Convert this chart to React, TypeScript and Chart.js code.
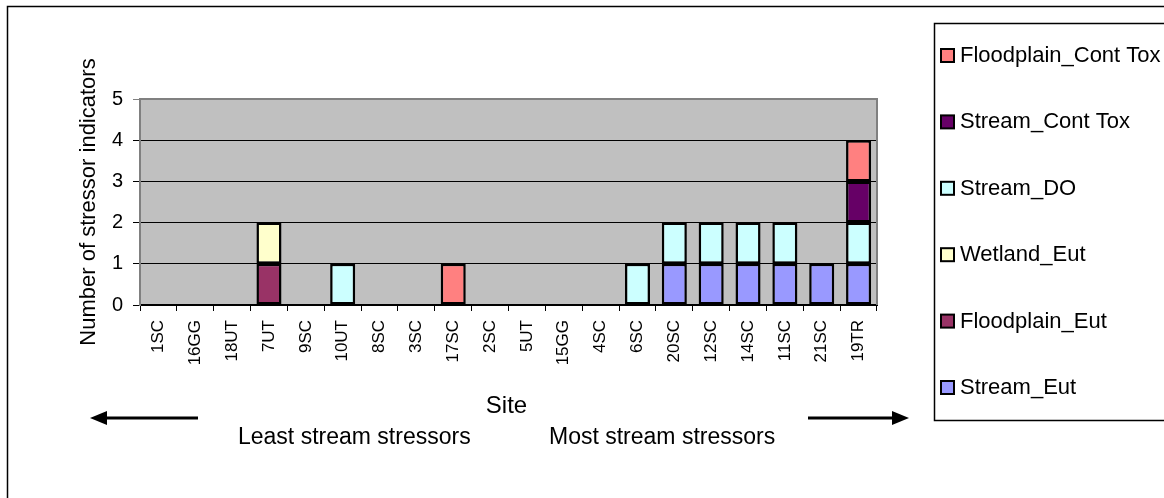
import React, { useEffect, useRef } from "react";
import { Chart, registerables } from "chart.js";

Chart.register(...registerables);

const sites = ["1SC", "16GG", "18UT", "7UT", "9SC", "10UT", "8SC", "3SC", "17SC", "2SC", "5UT", "15GG", "4SC", "6SC", "20SC", "12SC", "14SC", "11SC", "21SC", "19TR"];

const streamEut = [null, null, null, null, null, null, null, null, null, null, null, null, null, null, 1, 1, 1, 1, 1, 1];
const floodplainEut = [null, null, null, 1, null, null, null, null, null, null, null, null, null, null, null, null, null, null, null, null];
const wetlandEut = [null, null, null, 1, null, null, null, null, null, null, null, null, null, null, null, null, null, null, null, null];
const streamDO = [null, null, null, null, null, 1, null, null, null, null, null, null, null, 1, 1, 1, 1, 1, null, 1];
const streamContTox = [null, null, null, null, null, null, null, null, null, null, null, null, null, null, null, null, null, null, null, 1];
const floodplainContTox = [null, null, null, null, null, null, null, null, 1, null, null, null, null, null, null, null, null, null, null, 1];

const seriesNames = ["Stream_Eut", "Floodplain_Eut", "Wetland_Eut", "Stream_DO", "Stream_Cont Tox", "Floodplain_Cont Tox"];
const seriesColors = ["#9999FF", "#993366", "#FFFFCC", "#CCFFFF", "#660066", "#FF8080"];
const seriesValues = [streamEut, floodplainEut, wetlandEut, streamDO, streamContTox, floodplainContTox];

const yTicks = [0, 1, 2, 3, 4, 5];
const yTitle = "Number of stressor indicators";
const xTitle = "Site";
const leftNote = "Least stream stressors";
const rightNote = "Most stream stressors";

const FONT = "'Liberation Sans', Arial, sans-serif";

const decorPlugin = {
  id: "decor",
  beforeDraw(chart: any) {
    const { ctx, chartArea: a } = chart;
    ctx.save();
    ctx.fillStyle = "#FFFFFF";
    ctx.fillRect(0, 0, chart.width, chart.height);
    ctx.fillStyle = "#C0C0C0";
    ctx.fillRect(a.left, a.top, a.right - a.left, a.bottom - a.top);
    ctx.restore();
  },
  afterDatasetsDraw(chart: any) {
    const { ctx, chartArea: a } = chart;
    ctx.save();
    ctx.strokeStyle = "#808080";
    ctx.lineWidth = 2;
    ctx.beginPath();
    ctx.moveTo(a.left, a.top);
    ctx.lineTo(a.right, a.top);
    ctx.lineTo(a.right, a.bottom);
    ctx.stroke();
    ctx.restore();
  },
  afterDraw(chart: any) {
    const { ctx, chartArea: a } = chart;
    ctx.save();
    // outer border
    ctx.strokeStyle = "#000";
    ctx.lineWidth = 1.5;
    ctx.strokeRect(7.5, 6.5, 3000, 3000);
    // legend box
    ctx.lineWidth = 1.5;
    ctx.strokeRect(934.5, 23.5, 3000, 397);

    // legend items (reverse order)
    const ds = chart.data.datasets;
    ctx.font = `22px ${FONT}`;
    ctx.textBaseline = "middle";
    ctx.textAlign = "left";
    for (let i = 0; i < ds.length; i++) {
      const d = ds[ds.length - 1 - i];
      const cy = 55 + i * 66.4;
      ctx.fillStyle = d.backgroundColor;
      ctx.fillRect(941, cy - 6, 13, 13);
      ctx.strokeStyle = "#000";
      ctx.lineWidth = 2;
      ctx.strokeRect(941, cy - 6, 13, 13);
      ctx.fillStyle = "#000";
      ctx.fillText(d.label, 960, cy + 1);
    }

    // y title
    ctx.save();
    ctx.translate(89, (a.top + a.bottom) / 2);
    ctx.rotate(-Math.PI / 2);
    ctx.font = `22px ${FONT}`;
    ctx.textAlign = "center";
    ctx.textBaseline = "middle";
    ctx.fillStyle = "#000";
    ctx.fillText(yTitle, 0, 0);
    ctx.restore();

    // x title and notes
    ctx.fillStyle = "#000";
    ctx.textBaseline = "alphabetic";
    ctx.textAlign = "center";
    ctx.font = `24px ${FONT}`;
    ctx.fillText(xTitle, (a.left + a.right) / 2 - 2, 413);
    ctx.textAlign = "left";
    ctx.font = `23px ${FONT}`;
    ctx.fillText(leftNote, 238, 444);
    ctx.fillText(rightNote, 549, 444);

    // arrows
    ctx.strokeStyle = "#000";
    ctx.lineWidth = 3;
    ctx.beginPath();
    ctx.moveTo(198, 418);
    ctx.lineTo(102, 418);
    ctx.moveTo(808, 418);
    ctx.lineTo(896, 418);
    ctx.stroke();
    ctx.fillStyle = "#000";
    ctx.beginPath();
    ctx.moveTo(90, 418);
    ctx.lineTo(107, 411);
    ctx.lineTo(107, 425);
    ctx.closePath();
    ctx.fill();
    ctx.beginPath();
    ctx.moveTo(909, 418);
    ctx.lineTo(892, 411);
    ctx.lineTo(892, 425);
    ctx.closePath();
    ctx.fill();
    ctx.restore();
  },
};

export default function App() {
  const ref = useRef<HTMLCanvasElement | null>(null);
  useEffect(() => {
    document.body.style.margin = "0";
    const canvas = ref.current!;
    const chart = new Chart(canvas, {
      type: "bar",
      data: {
        labels: sites,
        datasets: seriesNames.map((name, i) => ({
          label: name,
          data: seriesValues[i],
          backgroundColor: seriesColors[i],
          borderColor: "#000000",
          borderWidth: 2.5,
          borderSkipped: false,
          categoryPercentage: 1,
          barPercentage: 0.68,
        })),
      },
      options: {
        animation: false,
        responsive: false,
        maintainAspectRatio: false,
        layout: { padding: { left: 0, top: 99, right: 287, bottom: 133 } },
        plugins: { legend: { display: false }, tooltip: { enabled: false }, title: { display: false } },
        scales: {
          x: {
            stacked: true,
            offset: true,
            afterFit: (s: any) => { s.height = 60; },
            grid: { display: true, drawOnChartArea: false, drawTicks: true, tickLength: 6, color: "#000", offset: true },
            border: { display: true, color: "#000", width: 2 },
            ticks: { minRotation: 90, maxRotation: 90, autoSkip: false, padding: 9, color: "#000", font: { family: FONT, size: 17 } },
          },
          y: {
            stacked: true,
            min: 0,
            max: 5,
            afterFit: (s: any) => { s.width = 140; },
            afterBuildTicks: (s: any) => { s.ticks = yTicks.map((v) => ({ value: v })); },
            grid: {
              color: (c: any) => (c.tick && c.tick.value === 5 ? "#808080" : "#000"),
              lineWidth: 1,
              drawTicks: true,
              tickLength: 7,
            },
            border: { display: true, color: "#808080", width: 2 },
            ticks: { stepSize: 1, padding: 10, color: "#000", font: { family: FONT, size: 20 } },
          },
        },
      },
      plugins: [decorPlugin],
    });
    return () => chart.destroy();
  }, []);
  return <canvas ref={ref} width={1164} height={498} style={{ display: "block", width: 1164, height: 498 }} />;
}
